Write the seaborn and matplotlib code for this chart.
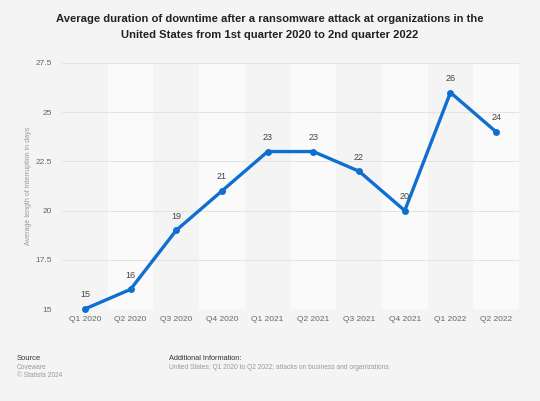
import matplotlib
matplotlib.use("Agg")
import matplotlib.pyplot as plt
import seaborn as sns
import pandas as pd

quarters = ["Q1 2020", "Q2 2020", "Q3 2020", "Q4 2020", "Q1 2021",
            "Q2 2021", "Q3 2021", "Q4 2021", "Q1 2022", "Q2 2022"]
days = [15, 16, 19, 21, 23, 23, 22, 20, 26, 24]
yticks = [15, 17.5, 20, 22.5, 25, 27.5]
ytick_labels = ["15", "17.5", "20", "22.5", "25", "27.5"]

sns.set_theme(style="white")
plt.rcParams['font.family'] = ['Liberation Sans', 'DejaVu Sans']

BG = "#f4f4f4"
fig = plt.figure(figsize=(5.4, 4.01), dpi=100, facecolor=BG)
ax = fig.add_axes([62/540, 1-309/401, (519-62)/540, (309-63)/401])
ax.set_facecolor(BG)

df = pd.DataFrame({"x": range(len(quarters)), "y": days})

# alternating column bands
for i in range(len(quarters)):
    if i % 2 == 1:
        ax.axvspan(i-0.5, i+0.5, color="#fafafa", zorder=0, lw=0)

for t in yticks:
    ax.axhline(t, color="#e3e3e3", lw=0.7, zorder=1)

sns.lineplot(data=df, x="x", y="y", ax=ax, color="#0f6fd1", lw=2.4,
             marker="o", markersize=5, markeredgewidth=0, zorder=3, clip_on=False)

for i, v in enumerate(days):
    ax.annotate(str(v), (i, v), xytext=(0, 7), textcoords="offset points",
                ha="center", va="bottom", fontsize=6.5, color="#444444")

ax.set_xlim(-0.5, len(quarters)-0.5)
ax.set_ylim(15, 27.5)
ax.set_xticks(range(len(quarters)))
ax.set_xticklabels(quarters)
ax.set_yticks(yticks)
ax.set_yticklabels(ytick_labels)
ax.tick_params(axis="x", length=0, labelsize=6.0, colors="#666666", pad=5)
ax.tick_params(axis="y", length=0, labelsize=6.0, colors="#666666", pad=7)
for s in ax.spines.values():
    s.set_visible(False)
ax.set_xlabel("")
ax.set_ylabel("")
fig.text(28.5/540, 1-186/401, "Average length of interruption in days", fontsize=5.1,
         color="#999999", rotation=90, ha="center", va="center")

fig.text(269.5/540, 1-19.5/401, "Average duration of downtime after a ransomware attack at organizations in the",
         ha="center", va="center", fontsize=8.15, fontweight="bold", color="#222222")
fig.text(269.5/540, 1-35.5/401, "United States from 1st quarter 2020 to 2nd quarter 2022",
         ha="center", va="center", fontsize=8.15, fontweight="bold", color="#222222")

fig.text(17/540, 1-359/401, "Source", fontsize=5.5, color="#333333", va="center")
fig.text(17/540, 1-367.7/401, "Coveware", fontsize=4.8, color="#999999", va="center")
fig.text(17/540, 1-375.7/401, "© Statista 2024", fontsize=4.8, color="#999999", va="center")
fig.text(169/540, 1-359/401, "Additional Information:", fontsize=5.3, color="#333333", va="center")
fig.text(169/540, 1-367.7/401, "United States; Q1 2020 to Q2 2022; attacks on business and organizations",
         fontsize=4.8, color="#999999", va="center")

fig.savefig("out.png", dpi=100, facecolor=BG)
